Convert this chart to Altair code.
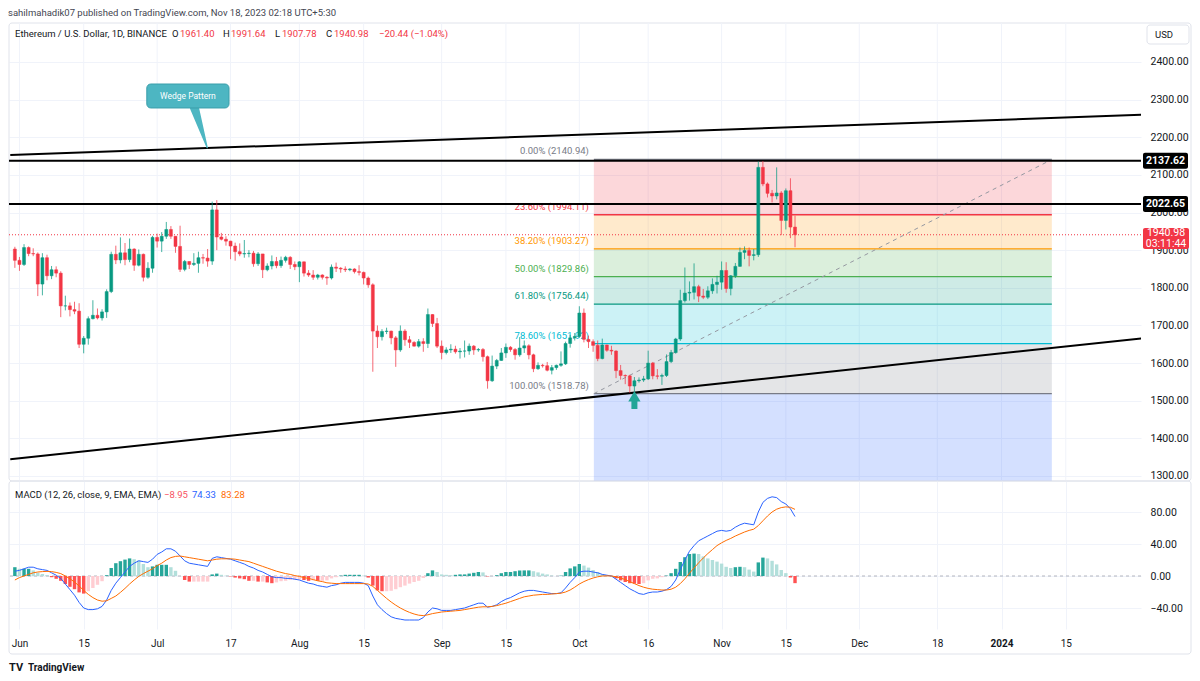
import altair as alt
import pandas as pd

# ------------------------------------------------------------------ data
dates = pd.date_range("2023-05-31", "2023-11-17", freq="D").strftime("%Y-%m-%d").tolist()

opens = [1903,1873,1862,1907,1891,1890,1810,1880,1832,1848,
         1839,1752,1752,1742,1738,1650,1666,1718,1727,1720,
         1736,1790,1889,1874,1893,1875,1903,1860,1889,1828,
         1852,1934,1924,1937,1955,1937,1910,1849,1870,1862,
         1865,1880,1879,1871,2007,1935,1929,1924,1911,1896,
         1890,1891,1892,1864,1890,1848,1858,1870,1859,1873,
         1881,1862,1856,1869,1839,1834,1828,1834,1828,1826,
         1855,1852,1850,1848,1850,1843,1841,1826,1808,1685,
         1670,1684,1685,1667,1635,1685,1662,1655,1645,1657,
         1652,1729,1705,1645,1628,1635,1637,1630,1632,1632,
         1645,1635,1636,1617,1553,1592,1607,1627,1642,1636,
         1622,1640,1646,1622,1585,1594,1593,1581,1588,1594,
         1598,1652,1667,1671,1733,1663,1657,1647,1612,1648,
         1634,1632,1580,1567,1566,1539,1553,1555,1558,1600,
         1566,1565,1567,1604,1628,1664,1766,1786,1788,1803,
         1778,1775,1792,1809,1815,1846,1798,1832,1857,1894,
         1899,1886,1888,2120,2076,2051,2044,2052,1979,2058,
         1961.40]
highs = [1909,1882,1916,1910,1905,1894,1892,1888,1858,1857,
         1844,1779,1761,1763,1759,1672,1724,1767,1745,1743,
         1796,1896,1912,1934,1919,1931,1905,1902,1891,1868,
         1938,1944,1948,1975,1964,1937,1965,1874,1870,1892,
         1896,1890,1903,2029,2033,1946,1937,1925,1920,1918,
         1927,1900,1898,1895,1890,1865,1886,1882,1883,1885,
         1884,1870,1871,1870,1847,1847,1837,1836,1831,1862,
         1867,1855,1857,1852,1852,1860,1843,1830,1812,1700,
         1690,1694,1686,1672,1700,1690,1672,1658,1664,1666,
         1745,1730,1720,1660,1642,1650,1646,1640,1660,1652,
         1648,1640,1640,1620,1620,1611,1640,1652,1645,1640,
         1669,1660,1650,1625,1602,1598,1603,1595,1596,1631,
         1657,1675,1680,1751,1745,1673,1663,1660,1665,1649,
         1646,1634,1595,1570,1569,1563,1562,1566,1633,1603,
         1584,1572,1623,1635,1667,1795,1854,1817,1865,1808,
         1797,1804,1825,1832,1870,1868,1834,1866,1907,1910,
         1907,1903,2136,2137,2080,2060,2120,2057,2064,2091,
         1991.64]
lows = [1853,1845,1858,1884,1884,1778,1780,1820,1823,1828,
        1722,1740,1724,1730,1640,1626,1649,1716,1716,1713,
        1720,1786,1863,1865,1860,1868,1845,1857,1817,1824,
        1840,1907,1895,1930,1930,1893,1842,1844,1850,1858,
        1840,1864,1856,1861,1900,1926,1912,1876,1872,1884,
        1880,1881,1856,1858,1826,1844,1849,1852,1853,1867,
        1850,1847,1815,1830,1829,1821,1822,1822,1808,1822,
        1842,1840,1842,1844,1838,1833,1809,1800,1577,1640,
        1660,1677,1650,1590,1630,1646,1640,1644,1641,1630,
        1640,1696,1640,1610,1623,1627,1625,1612,1615,1622,
        1622,1630,1604,1532,1550,1584,1606,1614,1630,1609,
        1617,1627,1610,1576,1582,1588,1578,1570,1582,1590,
        1595,1641,1660,1667,1655,1640,1630,1605,1610,1630,
        1622,1560,1556,1544,1521,1525,1548,1550,1555,1557,
        1557,1542,1563,1600,1625,1659,1761,1766,1769,1762,
        1770,1770,1784,1785,1795,1787,1780,1826,1856,1876,
        1857,1873,1882,2070,2040,2027,2035,1940,1955,1932,
        1907.78]
closes = [1873,1862,1907,1891,1890,1810,1880,1832,1848,1839,
          1752,1752,1742,1738,1650,1666,1718,1727,1720,1736,
          1790,1889,1874,1893,1875,1903,1860,1889,1828,1852,
          1934,1924,1937,1955,1937,1910,1849,1870,1862,1865,
          1880,1879,1871,2007,1935,1929,1924,1911,1896,1890,
          1891,1892,1864,1890,1848,1858,1870,1859,1873,1881,
          1862,1856,1869,1839,1834,1828,1834,1828,1826,1855,
          1852,1850,1848,1850,1843,1841,1826,1808,1685,1670,
          1684,1685,1667,1635,1685,1662,1655,1645,1657,1652,
          1729,1705,1645,1628,1635,1637,1630,1632,1632,1645,
          1635,1636,1617,1553,1592,1607,1627,1642,1636,1622,
          1640,1646,1622,1585,1594,1593,1581,1588,1594,1598,
          1652,1667,1671,1733,1663,1657,1647,1612,1648,1634,
          1632,1580,1567,1566,1539,1553,1555,1558,1600,1566,
          1565,1567,1604,1628,1664,1766,1786,1788,1803,1778,
          1775,1792,1809,1815,1846,1798,1832,1857,1894,1899,
          1886,1888,2120,2076,2051,2044,2052,1979,2058,1961.40,
          1940.98]

macd_line = [6, 7, 9, 11, 11, 9, 8, 7, 4, 1,
             -3, -10, -17, -24, -33, -40, -42, -42, -41, -38,
             -30, -18, -9, -2, 5, 12, 16, 19, 18, 17,
             21, 27, 30, 34, 34, 31, 25, 19, 16, 15,
             14, 13, 12, 22, 24, 23, 22, 21, 19, 17,
             15, 12, 10, 7, 5, 2, -1, -2, -2, -3,
             -3, -4, -5, -7, -9, -10, -12, -13, -14, -12,
             -11, -9, -8, -8, -8, -8, -9, -12, -25, -36,
             -42, -47, -51, -53, -54, -55, -55, -55, -55, -52,
             -45, -40, -41, -43, -43, -43, -42, -41, -40, -38,
             -36, -34, -34, -39, -38, -36, -32, -29, -27, -24,
             -21, -19, -18, -18, -19, -20, -21, -22, -22, -21,
             -15, -8, -2, 5, 6, 6, 5, 4, 2, 1,
             0, -4, -8, -12, -16, -19, -22, -23, -21, -20,
             -20, -19, -17, -13, -5, 8, 20, 31, 38, 44,
             47, 50, 53, 56, 57, 56, 57, 61, 64, 66,
             65, 64, 80, 92, 97, 99, 98, 93, 90, 84,
             74.33]
signal_line = [-5, -2, 0, 2, 4, 5, 5.5, 5.8, 5.5, 4.5,
               3, 0, -3.5, -7.5, -12.5, -18, -23, -27, -30, -31.5,
               -31, -28, -25, -20.5, -15.5, -10, -5, -0.5, 3, 6,
               9, 13, 16, 20, 23, 24.5, 25, 24, 23, 22,
               21, 20, 19, 20, 21, 21.5, 21.5, 21.5, 21, 20,
               19, 18, 16, 14, 12, 10, 8, 6, 4.5, 3,
               2, 0.5, -0.5, -2, -3, -4.5, -6, -7, -8.5, -9,
               -9.5, -9.5, -9.5, -9.5, -9.5, -9.5, -9.5, -10, -13, -18,
               -23, -28, -32.5, -36.5, -40, -43, -45.5, -47.5, -49, -49.5,
               -48.5, -47, -46, -45, -44.5, -44, -43.5, -43, -42, -41,
               -40, -39, -38.5, -38.5, -38, -37, -35.5, -34, -32, -30,
               -28, -26, -25, -24, -23.5, -23, -23, -22.5, -22, -21.5,
               -20, -17.5, -14, -10, -7, -4.5, -2.5, -1, 0, 0.2,
               0, -1, -2.5, -4.5, -7, -9.5, -12, -14, -15.5, -16.5,
               -17, -17.5, -17.5, -16.5, -14, -9.5, -3.5, 3.5, 10, 16.5,
               22.5, 28, 33, 38, 41.5, 44.5, 47, 50, 52.5, 55,
               57, 58.5, 63, 69, 75, 80, 83.5, 85.5, 86.4, 85.9,
               83.28]

price_ticks = [1300, 1400, 1500, 1600, 1700, 1800, 1900, 2000, 2100, 2200, 2300, 2400]
macd_ticks = [-40, 0, 40, 80]
tick_dates = [(2023, 6, 1), (2023, 6, 15), (2023, 7, 1), (2023, 7, 17), (2023, 8, 1), (2023, 8, 15),
              (2023, 9, 1), (2023, 9, 15), (2023, 10, 1), (2023, 10, 16), (2023, 11, 1), (2023, 11, 15),
              (2023, 12, 1), (2023, 12, 18), (2024, 1, 1), (2024, 1, 15)]

fib_ratios = [0.0, 0.236, 0.382, 0.5, 0.618, 0.786, 1.0, 1.618]
fib_prices = [2140.94, 1994.11, 1903.27, 1829.86, 1756.44, 1651.92, 1518.78, 1134.28]
fib_colors = ["#787B86", "#F23645", "#FF9800", "#4CAF50", "#089981", "#00BCD4", "#787B86", "#2962FF"]
fib_start = "2023-10-04T04:00:00Z"
fib_end = "2024-01-11T23:00:00Z"

h_levels = [2137.62, 2022.65]
last_price = 1940.98

wedge_t = ["2023-05-30", "2024-02-01"]
wedge_upper = [2152.6, 2259.9]
wedge_lower = [1344.2, 1666.3]

# ------------------------------------------------------------------ style
W, H_TOP, H_BOT = 1132, 458, 148
GREEN, RED = "#089981", "#F23645"
GRID = "#F0F3FA"
TXT = "#131722"
FONT = "Roboto"
ONE = pd.DataFrame({"k": [0]})

x_scale = alt.Scale(type="utc", domain=[
    alt.DateTime(year=2023, month=5, date=30, hours=19, minutes=30, utc=True),
    alt.DateTime(year=2024, month=1, date=30, hours=7, minutes=12, utc=True)])
tick_vals = [alt.DateTime(year=y, month=m, date=d, utc=True) for y, m, d in tick_dates]
tick_strs = [f"{y:04d}-{m:02d}-{d:02d}" for y, m, d in tick_dates]

ax_bot = alt.Axis(values=tick_vals, ticks=False, domain=False, grid=True, gridColor=GRID,
                  title=None, labelPadding=9, labelFontSize=10, labelColor=TXT, labelFont=FONT,
                  labelFlush=False, labelOverlap=False,
                  labelExpr="utcdate(datum.value) == 1 ? (utcmonth(datum.value) == 0 ? utcFormat(datum.value, '%Y') : utcFormat(datum.value, '%b')) : utcFormat(datum.value, '%-d')",
                  labelFontWeight={"condition": {"test": "utcmonth(datum.value) == 0 && utcdate(datum.value) == 1", "value": "bold"}, "value": "normal"})

y_top = alt.Scale(domain=[1286.7, 2503.6], nice=False, zero=False)
y_bot = alt.Scale(domain=[-66.25, 118.75], nice=False, zero=False)
ay_top = alt.Axis(orient="right", values=price_ticks, format=".2f", grid=True, gridColor=GRID,
                  domain=False, ticks=False, labelPadding=9, labelFontSize=10.5, labelColor=TXT,
                  labelFont=FONT, title=None)
ay_bot = alt.Axis(orient="right", values=macd_ticks, format=".2f", grid=True, gridColor=GRID,
                  domain=False, ticks=False, labelPadding=9, labelFontSize=10.5, labelColor=TXT,
                  labelFont=FONT, title=None)
PX = H_TOP / (2503.6 - 1286.7)


def XT(f):
    return alt.X(f, scale=x_scale, axis=None)


def YT(f):
    return alt.Y(f, scale=y_top, axis=ay_top)


def XB(f):
    return alt.X(f, scale=x_scale, axis=ax_bot)


def YB(f):
    return alt.Y(f, scale=y_bot, axis=ay_bot)


def txt(s, x, y, color=TXT, size=9.5, align="left", weight="normal"):
    return alt.Chart(ONE).mark_text(align=align, baseline="middle", fontSize=size, color=color,
                                    fontWeight=weight, font=FONT).encode(
        x=alt.value(x), y=alt.value(y), text=alt.value(s))


# ------------------------------------------------------------------ frames
df = pd.DataFrame({"date": dates, "open": opens, "high": highs, "low": lows, "close": closes})
df["dir"] = ["up" if c >= o else "down" for o, c in zip(df.open, df.close)]
color_dir = alt.Color("dir:N", scale=alt.Scale(domain=["up", "down"], range=[GREEN, RED]), legend=None)

zones = pd.DataFrame({"t0": fib_start, "t1": fib_end,
                      "top": fib_prices[:-1], "bot": fib_prices[1:], "c": fib_colors[1:]})
flines = pd.DataFrame({"t0": fib_start, "t1": fib_end, "p": fib_prices[:-1], "c": fib_colors[:-1],
                       "label": [f"{r * 100:.2f}% ({p:.2f})" for r, p in zip(fib_ratios[:-1], fib_prices[:-1])]})
fdiag = pd.DataFrame({"t": [fib_start, fib_end], "p": [fib_prices[6], fib_prices[0]]})
wedge = pd.DataFrame({"t": wedge_t * 2, "p": wedge_upper + wedge_lower, "g": ["u", "u", "l", "l"]})
hl = pd.DataFrame({"p": h_levels})

# ------------------------------------------------------------------ top panel
border_top = alt.Chart(ONE).mark_rect(fillOpacity=0, stroke="#E0E3EB", strokeWidth=1, cornerRadius=3).encode(
    x=alt.value(0), x2=alt.value(1182), y=alt.value(0), y2=alt.value(H_TOP))
vgrid = alt.Chart(pd.DataFrame({"t": tick_strs})).mark_rule(color=GRID, strokeWidth=1).encode(x=XT("t:T"))

zone_l = alt.Chart(zones).mark_rect(opacity=0.2, clip=True).encode(
    x=XT("t0:T"), x2="t1:T", y=YT("top:Q"), y2="bot:Q", color=alt.Color("c:N", scale=None))
fline_l = alt.Chart(flines).mark_rule(strokeWidth=1.3).encode(
    x=XT("t0:T"), x2="t1:T", y=YT("p:Q"), color=alt.Color("c:N", scale=None))
flabel_l = alt.Chart(flines).mark_text(align="right", baseline="middle", dx=-5, dy=-8, fontSize=9.5, font=FONT).encode(
    x=XT("t0:T"), y=YT("p:Q"), text="label:N", color=alt.Color("c:N", scale=None))
fdiag_l = alt.Chart(fdiag).mark_line(strokeDash=[4, 4], color="#9598A1", strokeWidth=1).encode(
    x=XT("t:T"), y=YT("p:Q"))
wedge_l = alt.Chart(wedge).mark_line(color="#000000", strokeWidth=2, clip=True).encode(
    x=XT("t:T"), y=YT("p:Q"), detail="g:N")
hl_l = alt.Chart(hl).mark_rule(color="#000000", strokeWidth=2).encode(y=YT("p:Q"))
last_l = alt.Chart(pd.DataFrame({"p": [last_price]})).mark_rule(color=RED, strokeDash=[1, 2], strokeWidth=1).encode(
    y=YT("p:Q"))

wick_l = alt.Chart(df).mark_rule(strokeWidth=1, opacity=0.75, clip=True).encode(
    x=XT("date:T"), y=YT("low:Q"), y2="high:Q", color=color_dir)
body_l = alt.Chart(df).mark_bar(size=3, strokeWidth=0.5, clip=True).encode(
    x=XT("date:T"), y=YT("open:Q"), y2="close:Q", color=color_dir, stroke=color_dir)

# arrow at the Oct low
arrow_head = alt.Chart(pd.DataFrame({"t": ["2023-10-13"], "p": [1512]})).mark_point(
    shape="triangle-up", filled=True, size=150, color="#22A598", opacity=1).encode(x=XT("t:T"), y=YT("p:Q"))
arrow_stem = alt.Chart(pd.DataFrame({"t": ["2023-10-13"], "p": [1505], "p2": [1478]})).mark_bar(
    size=6, color="#22A598").encode(x=XT("t:T"), y=YT("p:Q"), y2="p2:Q")

# callout
co = pd.DataFrame({"t0": ["2023-06-28T18:00:00Z"], "t1": ["2023-07-16T16:00:00Z"], "top": [2341.5], "bot": [2277.8]})
co_box = alt.Chart(co).mark_rect(color="#4DB6C2", stroke="#3B9EAA", strokeWidth=1, cornerRadius=4).encode(
    x=XT("t0:T"), x2="t1:T", y=YT("top:Q"), y2="bot:Q")
co_ptr = alt.Chart(pd.DataFrame({"t": ["2023-07-09T03:00:00Z", "2023-07-11T22:00:00Z"], "p": [2279, 2172],
                                 "w": [9, 1.2]})).mark_trail(color="#4DB6C2").encode(
    x=XT("t:T"), y=YT("p:Q"), size=alt.Size("w:Q", scale=None, legend=None))
co_txt = alt.Chart(pd.DataFrame({"t": ["2023-07-07T17:00:00Z"], "p": [2309.6], "s": ["Wedge Pattern"]})).mark_text(
    color="white", fontSize=8.5, font=FONT, baseline="middle").encode(x=XT("t:T"), y=YT("p:Q"), text="s:N")

# price tags on the scale
tags = pd.DataFrame({"p": h_levels, "top": [p + 8 / PX for p in h_levels], "bot": [p - 8 / PX for p in h_levels],
                     "s": [f"{p:.2f}" for p in h_levels]})
tag_box = alt.Chart(tags).mark_rect(color="#000000", cornerRadius=2).encode(
    x=alt.value(1134), x2=alt.value(1179), y=YT("top:Q"), y2="bot:Q")
tag_txt = alt.Chart(tags).mark_text(color="white", fontSize=10.5, fontWeight="bold", font=FONT, baseline="middle").encode(
    x=alt.value(1156.5), y=YT("p:Q"), text="s:N")
lt = pd.DataFrame({"p": [last_price], "top": [last_price + 18], "bot": [last_price - 37.7],
                   "s1": [f"{last_price:.2f}"], "s2": ["03:11:44"]})
last_box = alt.Chart(lt).mark_rect(color=RED, cornerRadius=2).encode(
    x=alt.value(1134), x2=alt.value(1180), y=YT("top:Q"), y2="bot:Q")
last_t1 = alt.Chart(lt).mark_text(color="white", fontSize=10.5, font=FONT, baseline="middle", dy=-2).encode(
    x=alt.value(1157), y=YT("p:Q"), text="s1:N")
last_t2 = alt.Chart(lt).mark_text(color="white", fontSize=10.5, font=FONT, baseline="middle", dy=9).encode(
    x=alt.value(1157), y=YT("p:Q"), text="s2:N")

usd_box = alt.Chart(ONE).mark_rect(fill="white", stroke="#E0E3EB", cornerRadius=3).encode(
    x=alt.value(1138), x2=alt.value(1180), y=alt.value(2), y2=alt.value(21))

legend_top = [
    txt("Ethereum / U.S. Dollar, 1D, BINANCE", 6, 11),
    txt("O", 163, 11), txt("1961.40", 171, 11, RED),
    txt("H", 214, 11), txt("1991.64", 222, 11, RED),
    txt("L", 266, 11), txt("1907.78", 273, 11, RED),
    txt("C", 317, 11), txt("1940.98", 325, 11, RED),
    txt("\u221220.44 (\u22121.04%)", 370, 11, RED),
    txt("USD", 1146, 12, TXT, 9.5),
]

top = alt.layer(
    border_top, vgrid, zone_l, fline_l, fdiag_l, flabel_l, wedge_l, hl_l, last_l,
    wick_l, body_l, arrow_stem, arrow_head, co_ptr, co_box, co_txt,
    tag_box, tag_txt, last_box, last_t1, last_t2, usd_box, *legend_top
).properties(width=W, height=H_TOP)

# ------------------------------------------------------------------ MACD panel
hist = [m - s for m, s in zip(macd_line, signal_line)]
hcol = []
prev = None
for h in hist:
    if h >= 0:
        hcol.append("#26A69A" if (prev is None or h >= prev) else "#B2DFDB")
    else:
        hcol.append("#FF5252" if (prev is not None and h < prev) else "#FFCDD2")
    prev = h
mdf = pd.DataFrame({"date": dates, "macd": macd_line, "signal": signal_line, "hist": hist,
                    "zero": 0.0, "hc": hcol})

border_bot = alt.Chart(ONE).mark_rect(fillOpacity=0, stroke="#E0E3EB", strokeWidth=1, cornerRadius=3).encode(
    x=alt.value(0), x2=alt.value(1182), y=alt.value(0), y2=alt.value(173))
zero_l = alt.Chart(pd.DataFrame({"z": [0]})).mark_rule(strokeDash=[3, 3], color="#B2B5BE", strokeWidth=1).encode(
    y=YB("z:Q"))
hist_l = alt.Chart(mdf).mark_bar(size=3.4, clip=True).encode(
    x=XB("date:T"), y=YB("hist:Q"), y2="zero:Q", color=alt.Color("hc:N", scale=None))
macd_l = alt.Chart(mdf).mark_line(color="#2962FF", strokeWidth=1, clip=True).encode(x=XB("date:T"), y=YB("macd:Q"))
sig_l = alt.Chart(mdf).mark_line(color="#FF6D00", strokeWidth=1, clip=True).encode(x=XB("date:T"), y=YB("signal:Q"))

legend_bot = [
    txt("MACD (12, 26, close, 9, EMA, EMA)", 6, 14),
    txt("\u22128.95", 155, 14, "#F7525F"),
    txt("74.33", 183, 14, "#2962FF"),
    txt("83.28", 212, 14, "#FF6D00"),
    txt("TV", 0, 187, TXT, 11, weight="bold"),
    txt("TradingView", 19, 187, TXT, 10, weight="bold"),
]

bot = alt.layer(border_bot, zero_l, hist_l, macd_l, sig_l, *legend_bot).properties(width=W, height=H_BOT)

chart = alt.vconcat(
    top, bot, spacing=0, bounds="flush",
    title=alt.Title("sahilmahadik07 published on TradingView.com, Nov 18, 2023 02:18 UTC+5:30",
                    anchor="start", fontSize=9.5, color="#434651", font=FONT, fontWeight="normal", offset=5)
).configure(
    padding={"left": 0, "top": 0, "right": 0, "bottom": 0}, font=FONT, background="white"
).configure_view(stroke=None)

chart.save("out.html", embed_options={"renderer": "svg", "actions": False})
